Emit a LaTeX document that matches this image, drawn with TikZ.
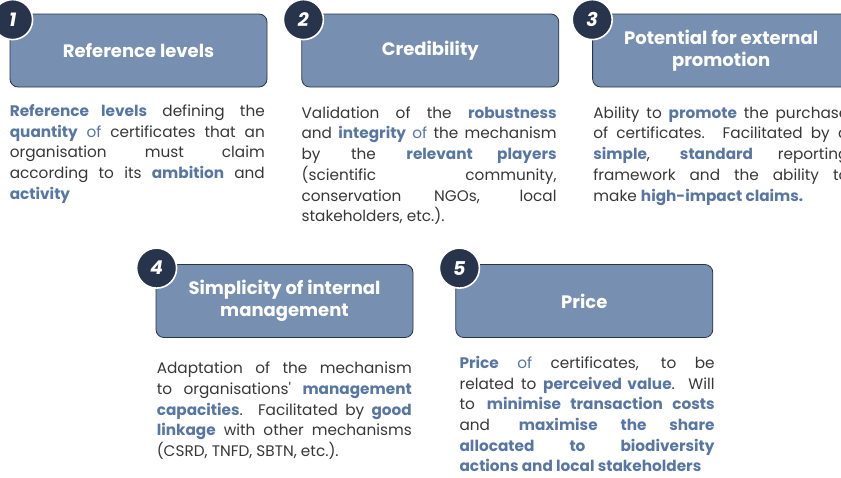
\documentclass[tikz,border=0pt]{standalone}
\usepackage{fontspec}
\setmainfont{Poppins}
\usepackage{xcolor}
\usetikzlibrary{positioning}
\definecolor{slateblue}{RGB}{119, 143, 176}
\definecolor{navy}{RGB}{40, 52, 76}
\definecolor{hlblue}{RGB}{88, 118, 163}
\definecolor{bodygray}{RGB}{55, 55, 55}
\newcommand{\hl}[1]{\textcolor{hlblue}{\textbf{#1}}}
\newcommand{\hc}[1]{\textcolor{hlblue}{#1}}
\newcommand{\nohyph}{\hyphenpenalty=10000\exhyphenpenalty=10000\relax}

\begin{document}
\begin{tikzpicture}[
    x=1pt, y=-1pt,
    title/.style={rectangle, rounded corners=8pt, draw=navy, line width=0.8pt, fill=slateblue, minimum width=257pt, minimum height=73pt, text=white, align=center, font=\bfseries\fontsize{18}{22}\selectfont},
    num/.style={circle, fill=navy, draw=white, line width=1.6pt, minimum size=40pt, inner sep=0pt, text=white, font=\bfseries\itshape\fontsize{19}{19}\selectfont},
    desc/.style={text width=255pt, align=justify, inner sep=0pt, text=bodygray, font=\fontsize{15.3}{20.7}\selectfont, execute at begin node=\nohyph}
]
\clip (0,0) rectangle (841,477);

% Title boxes, top row
\node[title] (levels) at (138.5,50.5) {Reference levels};
\node[title, right=34pt of levels] (cred) {Credibility};
\node[title, right=33pt of cred] (promo) {Potential for external\\promotion};

% Title boxes, bottom row
\node[title] (simple) at (284.5,301) {Simplicity of internal\\management};
\node[title, right=42pt of simple] (price) {Price};

% Numbers
\node[num] (n1) at ([shift={(3,6)}]levels.north west) {1};
\node[num] (n2) at ([shift={(2,6)}]cred.north west) {2};
\node[num] (n3) at ([shift={(0,6)}]promo.north west) {3};
\node[num] (n4) at ([shift={(1,4)}]simple.north west) {4};
\node[num] (n5) at ([shift={(4,4)}]price.north west) {5};

% Descriptions
\node[desc, below=17pt of levels.south west, anchor=north west] (d1) {\hl{Reference levels} defining the\linebreak \hl{quantity} \hc{of} certificates that an\linebreak organisation must claim\linebreak according to its \hl{ambition} and\linebreak \hl{activity}};
\node[desc, below=19pt of cred.south west, anchor=north west] (d2) {Validation of the \hl{robustness}\linebreak and \hl{integrity} \hc{of} the mechanism\linebreak by the \hl{relevant players}\linebreak (scientific community,\linebreak conservation NGOs, local\linebreak stakeholders, etc.).};
\node[desc, below=19pt of promo.south west, anchor=north west, xshift=1pt] (d3) {Ability to \hl{promote} the purchase\linebreak of certificates. Facilitated by a\linebreak \hl{simple}, \hl{standard} reporting\linebreak framework and the ability to\linebreak make \hl{high-impact claims.}};
\node[desc, below=24pt of simple.south west, anchor=north west, xshift=1pt] (d4) {Adaptation of the mechanism\linebreak to organisations\textquotesingle{} \hl{management}\linebreak \hl{capacities}. Facilitated by \hl{good}\linebreak \hl{linkage} with other mechanisms\linebreak (CSRD, TNFD, SBTN, etc.).};
\node[desc, below=18pt of price.south west, anchor=north west, xshift=4pt] (d5) {\hl{Price} \hc{of} certificates, to be\linebreak related to \hl{perceived value}. Will\linebreak to \hl{minimise transaction costs}\linebreak and \hl{maximise the share}\linebreak \hl{allocated to biodiversity}\linebreak \hl{actions and local stakeholders}};

\end{tikzpicture}
\end{document}
